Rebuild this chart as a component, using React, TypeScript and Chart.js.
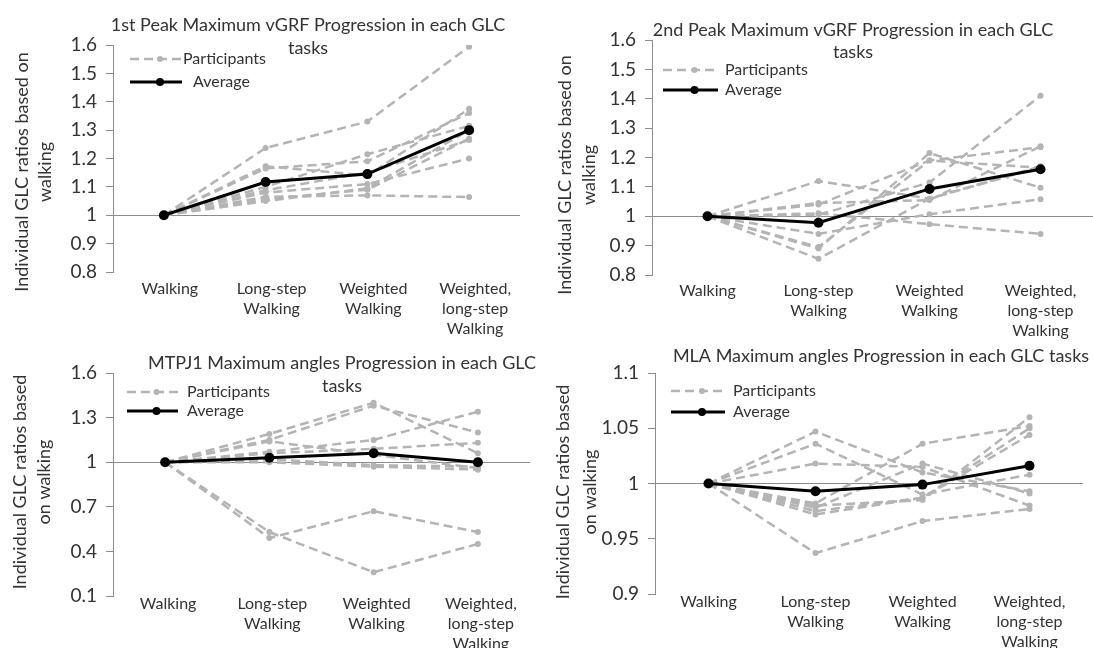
import React, { useEffect, useRef } from 'react';
import { Chart, registerables } from 'chart.js';
Chart.register(...registerables);

// ---------- data ----------
const categories: string[][] = [
  ['Walking'],
  ['Long-step', 'Walking'],
  ['Weighted', 'Walking'],
  ['Weighted,', 'long-step', 'Walking'],
];

const vgrf1Participants: number[][] = [
  [1, 1.237, 1.33, 1.594],
  [1, 1.173, 1.14, 1.375],
  [1, 1.165, 1.19, 1.36],
  [1, 1.1, 1.215, 1.315],
  [1, 1.088, 1.15, 1.265],
  [1, 1.08, 1.11, 1.2],
  [1, 1.065, 1.07, 1.064],
  [1, 1.05, 1.095, 1.3],
  [1, 1.057, 1.09, 1.27],
];
const vgrf1Average: number[] = [1, 1.117, 1.145, 1.3];

const vgrf2Participants: number[][] = [
  [1, 1.12, 1.06, 1.167],
  [1, 1.045, 1.055, 1.238],
  [1, 1.04, 1.19, 1.165],
  [1, 1.01, 0.973, 0.94],
  [1, 1.005, 1.115, 1.41],
  [1, 0.94, 1.007, 1.058],
  [1, 0.895, 1.19, 1.235],
  [1, 0.89, 1.215, 1.097],
  [1, 0.855, 1.06, 1.17],
];
const vgrf2Average: number[] = [1, 0.978, 1.093, 1.16];

const mtpjParticipants: number[][] = [
  [1, 1.19, 1.4, 1.06],
  [1, 1.15, 1.38, 1.2],
  [1, 1.14, 1.05, 0.96],
  [1, 1.07, 1.15, 1.34],
  [1, 1.06, 1.09, 1.13],
  [1, 1.02, 0.98, 0.97],
  [1, 1.0, 0.97, 0.95],
  [1, 0.53, 0.26, 0.45],
  [1, 0.49, 0.67, 0.53],
];
const mtpjAverage: number[] = [1, 1.03, 1.06, 1.0];

const mlaParticipants: number[][] = [
  [1, 1.047, 1.01, 0.993],
  [1, 1.036, 0.99, 1.008],
  [1, 1.018, 1.015, 0.98],
  [1, 0.982, 1.036, 1.052],
  [1, 0.98, 0.985, 1.06],
  [1, 0.978, 1.018, 0.991],
  [1, 0.975, 0.987, 1.044],
  [1, 0.972, 0.987, 1.05],
  [1, 0.937, 0.966, 0.977],
];
const mlaAverage: number[] = [1, 0.993, 0.999, 1.016];

const vgrfTicks = { min: 0.8, max: 1.6, step: 0.1 };
const mtpjTicks = { min: 0.1, max: 1.6, step: 0.3 };
const mlaTicks = { min: 0.9, max: 1.1, step: 0.05 };

const titleVgrf1 = ['1st Peak Maximum vGRF Progression in each GLC', 'tasks'];
const titleVgrf2 = ['2nd Peak Maximum vGRF Progression in each GLC', 'tasks'];
const titleMtpj = ['MTPJ1 Maximum angles Progression in each GLC', 'tasks'];
const titleMla = ['MLA Maximum angles Progression in each GLC tasks'];

const yTitleA = ['Individual GLC ratios based on', 'walking'];
const yTitleB = ['Individual GLC ratios based', 'on walking'];

const legendParticipants = 'Participants';
const legendAverage = 'Average';

// ---------- styling / layout ----------
const FONT = 'Lato, "Open Sans", sans-serif';
const TEXT = '#333333';
const GREY = '#b4b4b4';
const AXIS = '#8c8c8c';

type Panel = {
  x: number; y: number; w: number; h: number;
  area: { left: number; top: number; right: number; bottom: number };
  xLabelPad: number; xLabelShift: number;
  participants: number[][]; average: number[];
  ticks: { min: number; max: number; step: number };
  title: string[]; titleX: number; titleY: number[];
  yTitle: string[]; yTitleX: number[]; yTitleY: number;
  legend: { x1: number; x2: number; y1: number; y2: number; tx1: number; tx2: number };
};

const panels: Panel[] = [
  {
    x: 0, y: 0, w: 546, h: 345,
    area: { left: 113, top: 45, right: 520, bottom: 272 }, xLabelPad: -1, xLabelShift: 6,
    participants: vgrf1Participants, average: vgrf1Average, ticks: vgrfTicks,
    title: titleVgrf1, titleX: 308, titleY: [25, 48],
    yTitle: yTitleA, yTitleX: [22, 45], yTitleY: 172,
    legend: { x1: 130, x2: 182, y1: 59, y2: 82, tx1: 183, tx2: 193 },
  },
  {
    x: 546, y: 0, w: 560, h: 345,
    area: { left: 106, top: 40, right: 550, bottom: 275 }, xLabelPad: -2, xLabelShift: 0,
    participants: vgrf2Participants, average: vgrf2Average, ticks: vgrfTicks,
    title: titleVgrf2, titleX: 307, titleY: [30, 52],
    yTitle: yTitleA, yTitleX: [19, 43], yTitleY: 175,
    legend: { x1: 117, x2: 172, y1: 70, y2: 90, tx1: 179, tx2: 179 },
  },
  {
    x: 0, y: 324, w: 546, h: 324,
    area: { left: 113, top: 49, right: 530, bottom: 272 }, xLabelPad: -10, xLabelShift: 3,
    participants: mtpjParticipants, average: mtpjAverage, ticks: mtpjTicks,
    title: titleMtpj, titleX: 342, titleY: [39, 62],
    yTitle: yTitleB, yTitleX: [20, 44], yTitleY: 158,
    legend: { x1: 127, x2: 178, y1: 68, y2: 87, tx1: 187, tx2: 187 },
  },
  {
    x: 546, y: 324, w: 560, h: 324,
    area: { left: 109, top: 49, right: 537, bottom: 270 }, xLabelPad: -10, xLabelShift: 0,
    participants: mlaParticipants, average: mlaAverage, ticks: mlaTicks,
    title: titleMla, titleX: 335, titleY: [32],
    yTitle: yTitleB, yTitleX: [17, 44], yTitleY: 168,
    legend: { x1: 125, x2: 179, y1: 67, y2: 88, tx1: 187, tx2: 187 },
  },
];

const panelTextPlugin = {
  id: 'panelText',
  afterDraw(chart: any, _args: any, o: any) {
    const ctx = chart.ctx as CanvasRenderingContext2D;
    ctx.save();
    ctx.fillStyle = TEXT;
    ctx.textAlign = 'center';
    ctx.textBaseline = 'middle';
    ctx.font = `18px ${FONT}`;
    o.title.forEach((t: string, i: number) => ctx.fillText(t, o.titleX, o.titleY[i]));
    // y-axis title
    ctx.font = `18px ${FONT}`;
    o.yTitle.forEach((t: string, i: number) => {
      ctx.save();
      ctx.translate(o.yTitleX[i], o.yTitleY);
      ctx.rotate(-Math.PI / 2);
      ctx.fillText(t, 0, 0);
      ctx.restore();
    });
    // legend
    const L = o.legend;
    const cx = (L.x1 + L.x2) / 2 + 4;
    ctx.lineWidth = 2.5;
    ctx.strokeStyle = GREY;
    ctx.setLineDash([9, 5]);
    ctx.beginPath();
    ctx.moveTo(L.x1, L.y1);
    ctx.lineTo(L.x2, L.y1);
    ctx.stroke();
    ctx.setLineDash([]);
    ctx.fillStyle = GREY;
    ctx.beginPath();
    ctx.arc(cx, L.y1, 3, 0, Math.PI * 2);
    ctx.fill();
    ctx.strokeStyle = '#000';
    ctx.lineWidth = 3;
    ctx.beginPath();
    ctx.moveTo(L.x1, L.y2);
    ctx.lineTo(L.x2, L.y2);
    ctx.stroke();
    ctx.fillStyle = '#000';
    ctx.beginPath();
    ctx.arc(cx, L.y2, 4, 0, Math.PI * 2);
    ctx.fill();
    ctx.fillStyle = TEXT;
    ctx.textAlign = 'left';
    ctx.font = `16px ${FONT}`;
    ctx.fillText(legendParticipants, L.tx1, L.y1);
    ctx.fillText(legendAverage, L.tx2, L.y2);
    ctx.restore();
  },
};

function PanelChart({ p }: { p: Panel }) {
  const ref = useRef<HTMLCanvasElement>(null);
  useEffect(() => {
    if (!ref.current) return;
    const a = p.area;
    const datasets: any[] = p.participants.map((d, i) => ({
      label: `Participant ${i + 1}`,
      data: d,
      borderColor: GREY,
      backgroundColor: GREY,
      borderWidth: 2.5,
      borderDash: [9, 5],
      pointRadius: 3,
      pointBorderWidth: 0,
      pointBackgroundColor: GREY,
      tension: 0,
      order: 1,
    }));
    datasets.push({
      label: 'Average',
      data: p.average,
      borderColor: '#000',
      backgroundColor: '#000',
      borderWidth: 3,
      pointRadius: 5,
      pointBorderWidth: 0,
      pointBackgroundColor: '#000',
      tension: 0,
      order: 0,
    });
    const chart = new Chart(ref.current, {
      type: 'line',
      data: { labels: categories as any, datasets },
      options: {
        animation: false,
        responsive: false,
        devicePixelRatio: 1,
        layout: { padding: { left: 0, top: a.top, right: p.w - a.right, bottom: 0 } },
        plugins: {
          legend: { display: false },
          title: { display: false },
          tooltip: { enabled: false },
          panelText: {
            title: p.title, titleX: p.titleX, titleY: p.titleY,
            yTitle: p.yTitle, yTitleX: p.yTitleX, yTitleY: p.yTitleY,
            legend: p.legend,
          },
        } as any,
        scales: {
          x: {
            type: 'category',
            offset: true,
            grid: { display: false },
            border: { display: false },
            ticks: {
              color: TEXT,
              font: { family: FONT, size: 16, lineHeight: '20px' } as any,
              padding: p.xLabelPad,
              labelOffset: p.xLabelShift,
              maxRotation: 0,
              autoSkip: false,
            },
            afterFit: (s: any) => { s.height = p.h - a.bottom; },
          },
          y: {
            min: p.ticks.min,
            max: p.ticks.max,
            grid: {
              color: (c: any) => (c.tick && Math.abs(c.tick.value - 1) < 1e-9 ? AXIS : 'rgba(0,0,0,0)'),
              tickColor: AXIS,
              tickLength: 7,
              lineWidth: 1,
            },
            border: { display: true, color: AXIS, width: 1 },
            ticks: {
              stepSize: p.ticks.step,
              color: TEXT,
              padding: 9,
              font: { family: FONT, size: 19 },
              callback: (v: any) => String(parseFloat(Number(v).toFixed(3))),
            },
            afterFit: (s: any) => { s.width = a.left; },
          },
        },
      },
      plugins: [panelTextPlugin],
    });
    return () => chart.destroy();
  }, [p]);
  return (
    <canvas
      ref={ref}
      width={p.w}
      height={p.h}
      style={{ position: 'absolute', left: p.x, top: p.y, width: p.w, height: p.h }}
    />
  );
}

export default function App() {
  return (
    <div style={{ position: 'fixed', left: 0, top: 0, width: 1093, height: 648, background: '#fff', overflow: 'hidden' }}>
      {panels.map((p, i) => (
        <PanelChart key={i} p={p} />
      ))}
    </div>
  );
}
